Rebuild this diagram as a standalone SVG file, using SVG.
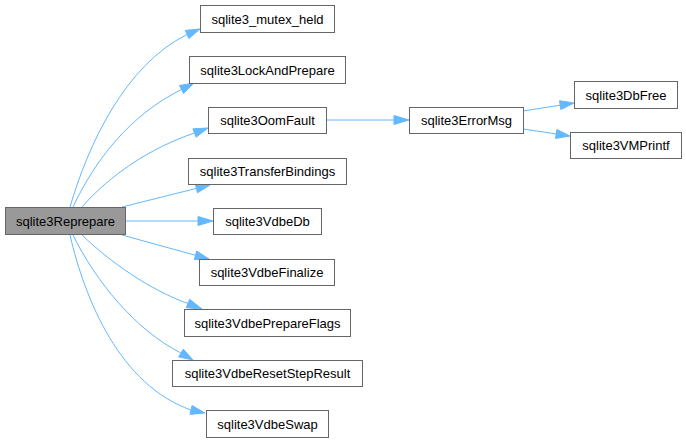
<svg xmlns="http://www.w3.org/2000/svg" width="686" height="443" viewBox="0 0 686 443">
<style>
.n rect{fill:#fff;stroke:#666;stroke-width:1}
.n text{font-family:"Liberation Sans",Arial,sans-serif;font-size:13px;fill:#000;text-anchor:middle}
#edges path{fill:none;stroke:#63b8ff;stroke-width:1}
#edges polygon{fill:#63b8ff;stroke:#63b8ff;stroke-width:1}
</style>
<rect width="686" height="443" fill="#fff"/>
<g id="edges">
<path d="M70,207 C88,145 125,65 187.1,34.5"/><polygon points="188.9,38.6 200,29 185.3,30.4"/>
<path d="M73,207 C95,160 130,115 181.5,89.5"/><polygon points="183.5,93.5 194,83 179.5,85.5"/>
<path d="M82,207 C110,175 150,148 194.5,133"/><polygon points="196.1,137.2 208,128 192.9,128.8"/>
<path d="M122,207 L196.4,188.4"/><polygon points="197.5,192.8 210,185 195.3,184"/>
<path d="M125,221 L198,221"/><polygon points="198,216.5 213,221 198,225.5"/>
<path d="M122,235 L195.5,255.3"/><polygon points="194.3,259.6 209,259 196.7,251"/>
<path d="M82,235 C110,262 150,290 188,303.5"/><polygon points="186.3,307.7 202,309 189.6,299.3"/>
<path d="M73,235 C95,280 135,330 181,353"/><polygon points="178.7,356.9 193,360 183.3,349.1"/>
<path d="M70,235 C85,300 120,385 191,410"/><polygon points="190,414.4 205,413 192,405.6"/>
<path d="M326,120 L394,120"/><polygon points="394,115.5 409,120 394,124.5"/>
<path d="M523,111 L560.2,105.2"/><polygon points="560.9,109.6 574,103 559.5,100.7"/>
<path d="M523,129 L556.2,133.9"/><polygon points="555.5,138.4 570,136 556.9,129.5"/>
</g>
<g id="sqlite3Reprepare" class="n"><rect x="5.5" y="207.5" width="120" height="27" style="fill:#999"/><text x="65.5" y="225.5">sqlite3Reprepare</text></g>
<g id="sqlite3_mutex_held" class="n"><rect x="200.5" y="5.5" width="134" height="27"/><text x="267.5" y="23.5">sqlite3_mutex_held</text></g>
<g id="sqlite3LockAndPrepare" class="n"><rect x="189.5" y="56.5" width="156" height="27"/><text x="267.5" y="74.5">sqlite3LockAndPrepare</text></g>
<g id="sqlite3OomFault" class="n"><rect x="208.5" y="107.5" width="118" height="26"/><text x="267.5" y="125">sqlite3OomFault</text></g>
<g id="sqlite3TransferBindings" class="n"><rect x="188.5" y="158.5" width="158" height="26"/><text x="267.5" y="176">sqlite3TransferBindings</text></g>
<g id="sqlite3VdbeDb" class="n"><rect x="213.5" y="208.5" width="108" height="26"/><text x="267.5" y="226">sqlite3VdbeDb</text></g>
<g id="sqlite3VdbeFinalize" class="n"><rect x="199.5" y="259.5" width="135" height="26"/><text x="267" y="277">sqlite3VdbeFinalize</text></g>
<g id="sqlite3VdbePrepareFlags" class="n"><rect x="184.5" y="309.5" width="166" height="27"/><text x="267.5" y="327.5">sqlite3VdbePrepareFlags</text></g>
<g id="sqlite3VdbeResetStepResult" class="n"><rect x="172.5" y="360.5" width="190" height="26"/><text x="267.5" y="378">sqlite3VdbeResetStepResult</text></g>
<g id="sqlite3VdbeSwap" class="n"><rect x="206.5" y="410.5" width="122" height="27"/><text x="267.5" y="428.5">sqlite3VdbeSwap</text></g>
<g id="sqlite3ErrorMsg" class="n"><rect x="409.5" y="107.5" width="114" height="26"/><text x="466.5" y="125">sqlite3ErrorMsg</text></g>
<g id="sqlite3DbFree" class="n"><rect x="574.5" y="81.5" width="103" height="27"/><text x="626" y="99.5">sqlite3DbFree</text></g>
<g id="sqlite3VMPrintf" class="n"><rect x="570.5" y="132.5" width="111" height="26"/><text x="626" y="150">sqlite3VMPrintf</text></g>
</svg>
